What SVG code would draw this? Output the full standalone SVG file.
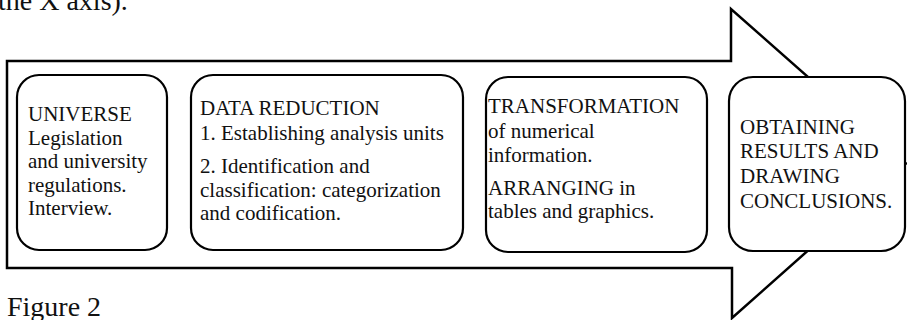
<svg xmlns="http://www.w3.org/2000/svg" width="907" height="320" viewBox="0 0 907 320">
<style>
.t{font-family:"Liberation Serif","Times New Roman",serif;font-size:21px;fill:#111}
.big{font-family:"Liberation Serif","Times New Roman",serif;font-size:28px;fill:#111}
.box{fill:#fff;stroke:#000;stroke-width:2.2}
.arrow{fill:#fff;stroke:#000;stroke-width:2.5;stroke-linejoin:miter}
</style>
<rect width="907" height="320" fill="#fff"/>
<text class="big" x="-2" y="10">the X axis).</text>
<g id="connectors">
<path class="arrow" d="M7,61 L731,61 L731,9 L906,163.5 L732,318 L732,268 L7,268 Z"/>
</g>
<g id="universe">
<rect class="box" x="17" y="75" width="150" height="175" rx="22" ry="22"/>
<text class="t" x="28"><tspan x="28" y="121">UNIVERSE</tspan><tspan x="28" y="145">Legislation</tspan><tspan x="28" y="168">and university</tspan><tspan x="28" y="192">regulations.</tspan><tspan x="28" y="215">Interview.</tspan></text>
</g>
<g id="data-reduction">
<rect class="box" x="191" y="75" width="272" height="175" rx="22" ry="22"/>
<text class="t"><tspan x="200" y="115">DATA REDUCTION</tspan><tspan x="200" y="140">1. Establishing analysis units</tspan><tspan x="200" y="173">2. Identification and</tspan><tspan x="200" y="197">classification: categorization</tspan><tspan x="200" y="220">and codification.</tspan></text>
</g>
<g id="transformation">
<rect class="box" x="486" y="77" width="221" height="175" rx="22" ry="22"/>
<text class="t"><tspan x="488" y="113">TRANSFORMATION</tspan><tspan x="488" y="138">of numerical</tspan><tspan x="488" y="162">information.</tspan><tspan x="488" y="195">ARRANGING in</tspan><tspan x="488" y="218">tables and graphics.</tspan></text>
</g>
<g id="results">
<rect class="box" x="729" y="77" width="176" height="174" rx="24" ry="24"/>
<text class="t"><tspan x="740" y="134">OBTAINING</tspan><tspan x="740" y="158">RESULTS AND</tspan><tspan x="740" y="183">DRAWING</tspan><tspan x="740" y="208">CONCLUSIONS.</tspan></text>
</g>
<text class="big" x="7" y="316">Figure 2</text>
</svg>
